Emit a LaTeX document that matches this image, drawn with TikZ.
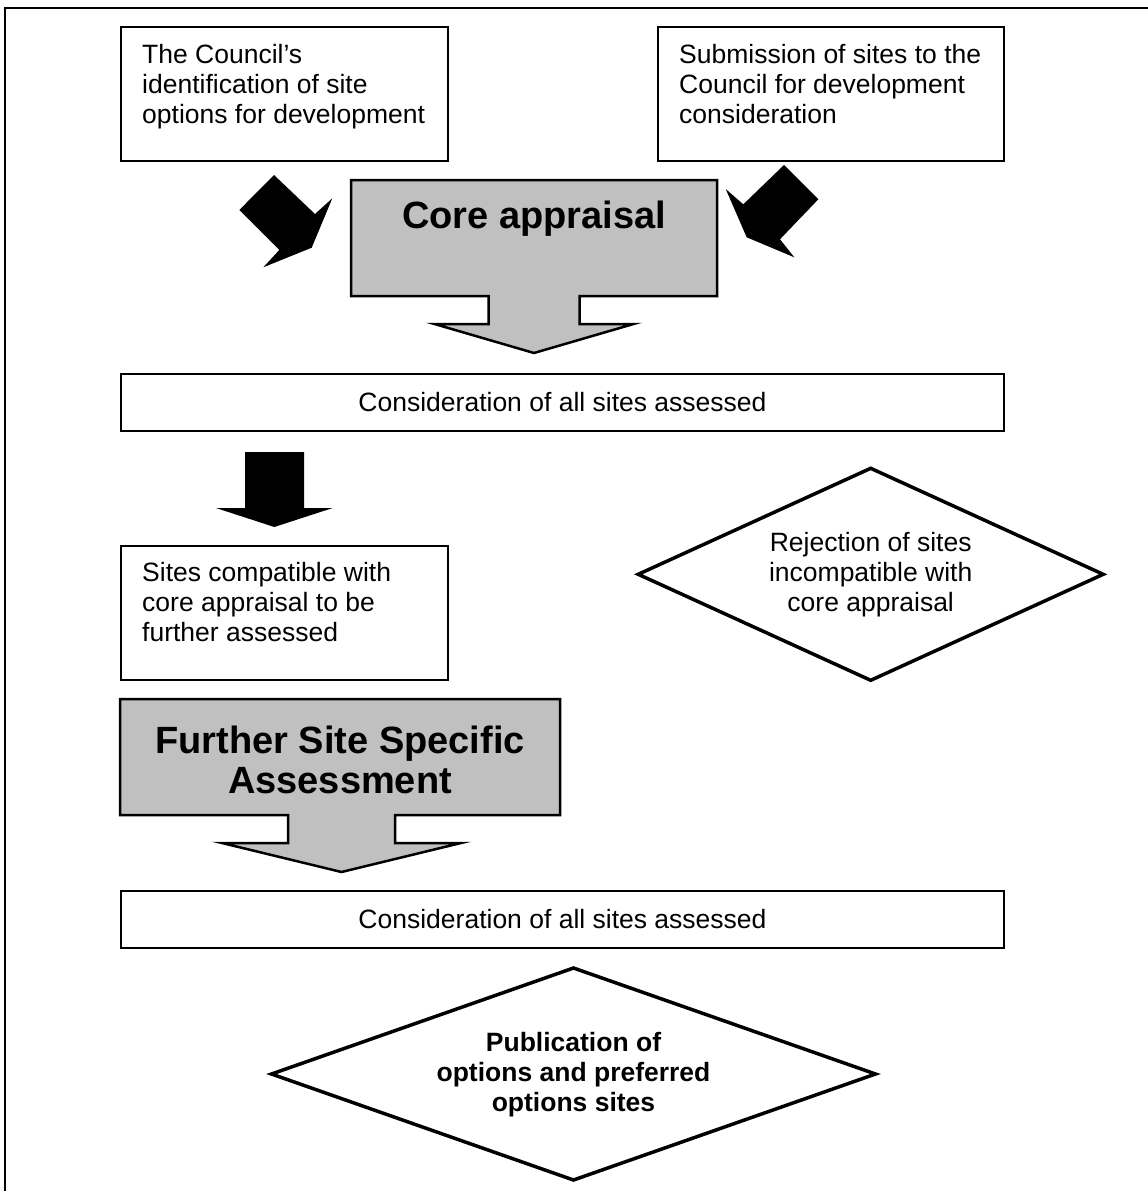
\documentclass[tikz,border=0pt]{standalone}
\usepackage{fontspec}
\setmainfont{Liberation Sans}
\usetikzlibrary{shapes.geometric}
\definecolor{callgrey}{RGB}{192,192,192}
\tikzset{
  box/.style={draw=black, line width=2pt, fill=white, inner sep=0pt, outer sep=0pt},
  boxtext/.style={font=\fontsize{26.5}{30}\selectfont, inner sep=0pt, align=left, anchor=north west},
  ctrtext/.style={font=\fontsize{26.5}{30}\selectfont, inner sep=0pt, align=center, anchor=north},
  boldtext/.style={font=\bfseries\fontsize{26.5}{30}\selectfont, inner sep=0pt, align=center, anchor=north},
  bigtext/.style={font=\bfseries\fontsize{38}{40.5}\selectfont, inner sep=0pt, align=center},
  callout/.style={draw=black, line width=2.5pt, fill=callgrey, line join=miter},
  blockarrow/.style={fill=black, draw=none},
  decision/.style={diamond, draw=black, line width=3.5pt, fill=white, inner sep=0pt, outer sep=0pt},
  frameline/.style={draw=black, line width=1.5pt}
}
\begin{document}
\begin{tikzpicture}[x=1pt,y=-1pt]
\useasboundingbox (0,0) rectangle (1148,1191);
% outer frame (right and bottom edges lie outside the picture)
\coordinate (fbl) at (5,1195);
\coordinate (ftl) at (5,8);
\coordinate (ftr) at (1152,8);
\draw[frameline] (fbl) -- (ftl) -- (ftr);

% top boxes
\node[box, minimum width=327, minimum height=134] (A) at (284.5,94) {};
\node[boxtext] (tA) at (142,38) {\rule{0pt}{25pt}The Council’s\\identification of site\\options for development};
\node[box, minimum width=346, minimum height=134] (B) at (831,94) {};
\node[boxtext] (tB) at (679,38) {\rule{0pt}{25pt}Submission of sites to the\\Council for development\\consideration};

% black diagonal arrows
\fill[blockarrow] (274,175) -- (239.3,210) -- (279.3,250) -- (263.3,267.3) -- (311.7,247.7) -- (332.3,198.3) -- (315,214) -- cycle;
\fill[blockarrow] (784,165) -- (818.3,199.3) -- (780,239.3) -- (794.3,257.3) -- (746.7,237.3) -- (725.7,189) -- (743.3,204.3) -- cycle;

% core appraisal callout
\draw[callout] (351,180) -- (717,180) -- (717,296) -- (579.5,296) -- (579.5,324) -- (633.5,324) -- (534,353) -- (434.5,324) -- (488.5,324) -- (488.5,296) -- (351,296) -- cycle;
\node[bigtext, anchor=base] (core) at (534,228) {Core appraisal};

% first consideration box
\node[box, minimum width=883, minimum height=57, font=\fontsize{26.5}{30}\selectfont] (C) at (562.5,402.5) {Consideration of all sites assessed};

% black down arrow
\fill[blockarrow] (245,452) -- (304,452) -- (304,508) -- (332.7,508) -- (274.3,527) -- (216,508) -- (245,508) -- cycle;

% compatible sites box
\node[box, minimum width=327, minimum height=134] (E) at (284.5,613) {};
\node[boxtext] (tE) at (142,556) {\rule{0pt}{25pt}Sites compatible with\\core appraisal to be\\further assessed};

% rejection diamond
\node[decision, minimum width=465, minimum height=212] (rej) at (870.7,574.3) {};
\node[ctrtext] (trej) at (870.7,526.7) {\rule{0pt}{25pt}Rejection of sites\\incompatible with\\core appraisal};

% further site specific assessment callout
\draw[callout] (120,699) -- (560,699) -- (560,815) -- (395,815) -- (395,843) -- (461,843) -- (341.5,872) -- (222,843) -- (288,843) -- (288,815) -- (120,815) -- cycle;
\node[bigtext, anchor=north] (fssa) at (340,720) {\rule{0pt}{33pt}Further Site Specific\\Assessment};

% second consideration box
\node[box, minimum width=883, minimum height=57, font=\fontsize{26.5}{30}\selectfont] (D) at (562.5,919.5) {Consideration of all sites assessed};

% publication diamond
\node[decision, minimum width=604, minimum height=212] (pub) at (573.5,1074) {};
\node[boldtext] (tpub) at (573.5,1026.7) {\rule{0pt}{25pt}Publication of\\options and preferred\\options sites};
\end{tikzpicture}
\end{document}
